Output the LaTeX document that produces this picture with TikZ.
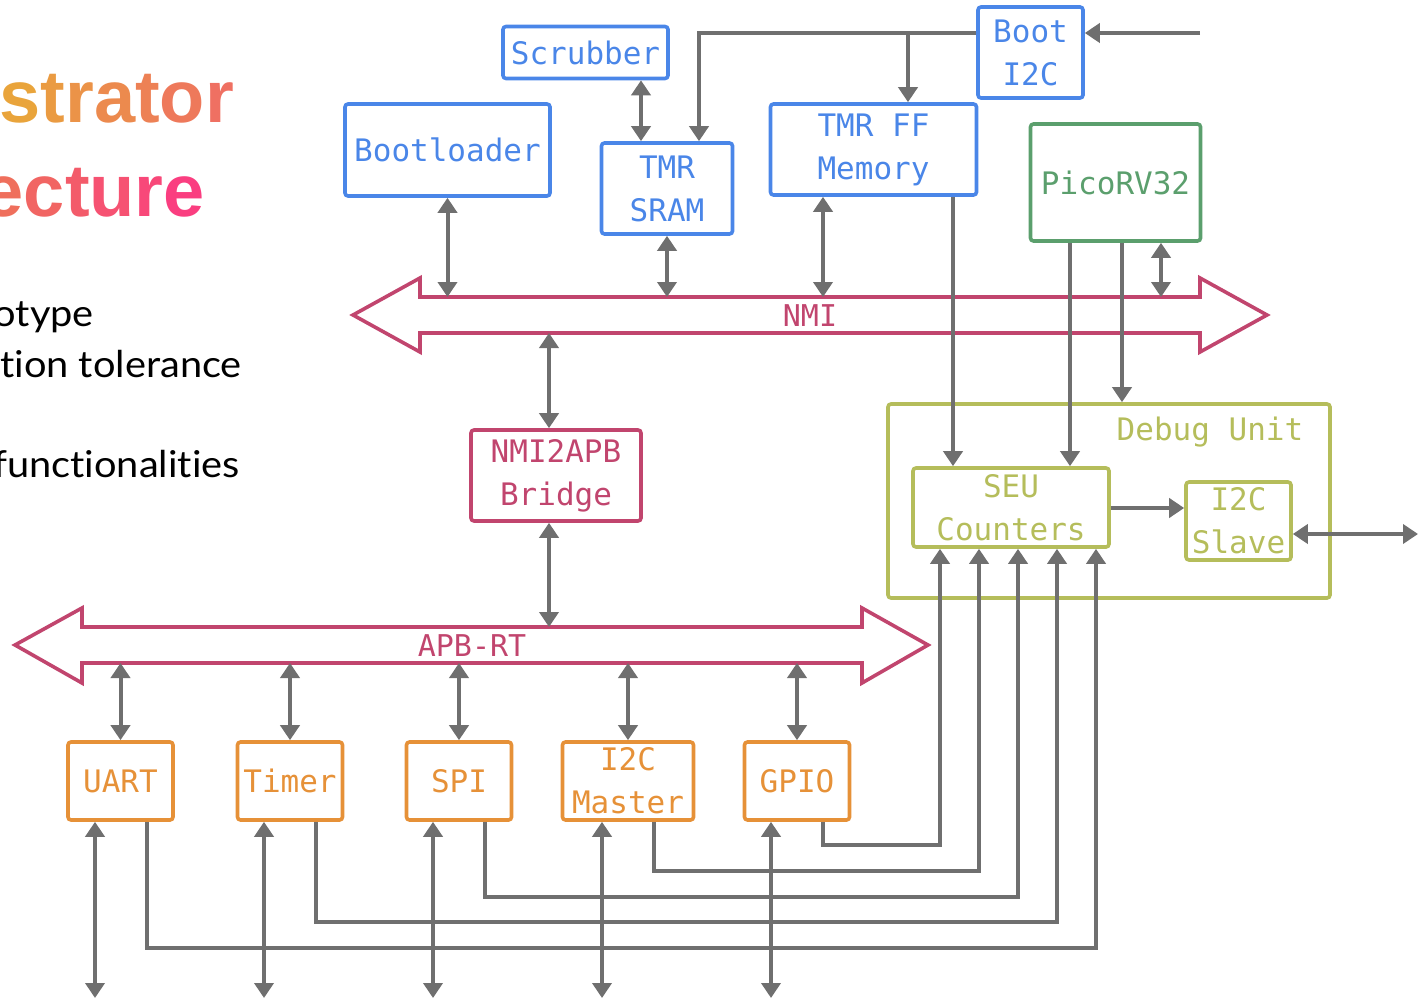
\documentclass[tikz,border=0pt]{standalone}
\usepackage{fontspec}
\usetikzlibrary{arrows.meta}
\newfontfamily\monofont{DejaVu Sans Mono}
\newfontfamily\titlefont{Liberation Sans}
\newfontfamily\bodyfont{Lato}[FakeStretch=1.075, Ligatures={NoCommon,NoRare}]
\definecolor{memblue}{HTML}{4A86E8}
\definecolor{cpugreen}{HTML}{5B9F6D}
\definecolor{busred}{HTML}{C1456E}
\definecolor{periorange}{HTML}{E69138}
\definecolor{dbgolive}{HTML}{B5BD5B}
\definecolor{wiregray}{HTML}{6F6F6F}
\newcommand{\gl}[4]{{\color[RGB]{#1,#2,#3}#4}}
\begin{document}
\begin{tikzpicture}[x=1pt,y=-1pt,
  blk/.style={draw, line width=3.6pt, rounded corners=3pt, inner sep=0pt,
    align=center, font=\monofont\fontsize{31}{43}\selectfont},
  membox/.style={blk, draw=memblue, text=memblue},
  cpubox/.style={blk, draw=cpugreen, text=cpugreen},
  bridgebox/.style={blk, draw=busred, text=busred},
  peribox/.style={blk, draw=periorange, text=periorange, minimum width=105pt, minimum height=78pt},
  dbgbox/.style={blk, draw=dbgolive, text=dbgolive},
  busshape/.style={draw=busred, line width=3.6pt, line join=miter},
  buslabel/.style={text=busred, font=\monofont\fontsize{30}{36}\selectfont, inner sep=0pt},
  wire/.style={draw=wiregray, line width=4pt},
  tip/.tip={Triangle[length=15pt,width=19pt]},
  uni/.style={wire, -tip},
  bi/.style={wire, tip-tip}]
\useasboundingbox (0,0) rectangle (1426,1000);

% slide title and bullet text
\node[anchor=base east, inner sep=0pt, font=\titlefont\bfseries\fontsize{74}{80}\selectfont] (ttlA) at (234,123)
  {\gl{233}{164}{59}{s}\gl{234}{155}{66}{t}\gl{235}{147}{72}{r}\gl{236}{138}{78}{a}\gl{237}{129}{85}{t}\gl{238}{121}{91}{o}\gl{239}{112}{98}{r}};
\node[anchor=base east, inner sep=0pt, font=\titlefont\bfseries\fontsize{74}{80}\selectfont] (ttlB) at (205,217)
  {\gl{239}{111}{92}{e}\gl{241}{101}{99}{c}\gl{243}{91}{106}{t}\gl{246}{82}{114}{u}\gl{248}{72}{121}{r}\gl{250}{62}{128}{e}};
\node[anchor=base east, inner sep=0pt, font=\bodyfont\fontsize{37}{44}\selectfont] (bl1) at (94,326) {otype};
\node[anchor=base east, inner sep=0pt, font=\bodyfont\fontsize{37}{44}\selectfont] (bl2) at (242,377) {tion tolerance};
\node[anchor=base east, inner sep=0pt, font=\bodyfont\fontsize{37}{44}\selectfont] (bl3) at (240,477) {functionalities};

% buses
\draw[busshape] (353,315) -- (420,278) -- (420,297) -- (1200,297) -- (1200,278) -- (1267,315)
  -- (1200,352) -- (1200,333) -- (420,333) -- (420,352) -- cycle;
\node[buslabel] (nmi) at (810,316) {NMI};
\draw[busshape] (15,645) -- (82,608) -- (82,627) -- (862,627) -- (862,608) -- (928,645)
  -- (862,683) -- (862,663) -- (82,663) -- (82,683) -- cycle;
\node[buslabel] (apb) at (472,646) {APB-RT};

% blocks
\node[membox, minimum width=165pt, minimum height=52pt] (scrub) at (585.5,52.5) {Scrubber};
\node[membox, minimum width=205pt, minimum height=92pt] (bootl) at (447.5,150) {Bootloader};
\node[membox, minimum width=131pt, minimum height=91pt] (sram) at (667,188.5) {TMR\\SRAM};
\node[membox, minimum width=206pt, minimum height=91pt] (ffmem) at (873.5,149.5) {TMR FF\\Memory};
\node[membox, minimum width=105pt, minimum height=91pt] (booti2c) at (1030.5,52.5) {Boot\\I2C};
\node[cpubox, minimum width=170pt, minimum height=117pt] (pico) at (1115.5,182.5) {PicoRV32};
\node[bridgebox, minimum width=170pt, minimum height=91pt] (bridge) at (556,475.5) {NMI2APB\\Bridge};
\node[dbgbox, minimum width=442pt, minimum height=194pt] (dbg) at (1109,501) {};
\node[text=dbgolive, inner sep=0pt, font=\monofont\fontsize{31}{43}\selectfont] (dbglbl) at (1210,432) {Debug Unit};
\node[dbgbox, minimum width=196pt, minimum height=79pt] (seu) at (1011,507.5) {SEU\\Counters};
\node[dbgbox, minimum width=105pt, minimum height=78pt] (slave) at (1238.5,521) {I2C\\Slave};
\node[peribox] (uart) at (120.5,781) {UART};
\node[peribox] (timer) at (290,781) {Timer};
\node[peribox] (spi) at (459,781) {SPI};
\node[peribox, minimum width=131pt] (i2cm) at (628,781) {I2C\\Master};
\node[peribox] (gpio) at (797,781) {GPIO};

% lane coordinates
\coordinate (nmiT) at (0,297);
\coordinate (nmiB) at (0,333);
\coordinate (apbT) at (0,627);
\coordinate (apbB) at (0,663);
\coordinate (nmiFF) at (823,297);
\coordinate (nmiPico) at (1161,297);
\coordinate (nmiBr) at (549,333);
\coordinate (apbBr) at (549,627);
\coordinate (bootin) at (1200,33);
\coordinate (sramtop) at (699,33);
\coordinate (ffbr) at (908,33);
\coordinate (scrx) at (641,100);
\coordinate (ffx) at (953,300);
\coordinate (picoA) at (1070,300);
\coordinate (picoB) at (1122,300);
\coordinate (sy) at (1150,508);
\coordinate (so) at (1418,534);
\coordinate (io1) at (95,998);
\coordinate (io2) at (264,998);
\coordinate (io3) at (433,998);
\coordinate (io4) at (602,998);
\coordinate (io5) at (771,998);
\coordinate (ua) at (147,948);
\coordinate (ub) at (1096,948);
\coordinate (ta) at (316,922);
\coordinate (tb) at (1057,922);
\coordinate (sa) at (485,897);
\coordinate (sb) at (1018,897);
\coordinate (ma) at (654,871);
\coordinate (mb) at (979,871);
\coordinate (ga) at (823,845);
\coordinate (gb) at (940,845);

% boot configuration path
\draw[uni] (bootin) -- (booti2c.east |- bootin);
\draw[uni] (booti2c.west |- bootin) -- (sramtop) -- (sram.north -| sramtop);
\draw[uni] (ffbr) -- (ffmem.north -| ffbr);
\draw[bi] (scrub.south -| scrx) -- (sram.north -| scrx);

% NMI attachments
\draw[bi] (bootl.south) -- (bootl.south |- nmiT);
\draw[bi] (sram.south) -- (sram.south |- nmiT);
\draw[bi] (ffmem.south -| nmiFF) -- (nmiFF);
\draw[bi] (pico.south -| nmiPico) -- (nmiPico);
\draw[bi] (nmiBr) -- (bridge.north -| nmiBr);
\draw[bi] (bridge.south -| apbBr) -- (apbBr);

% error reporting into the debug unit
\draw[uni] (ffmem.south -| ffx) -- (seu.north -| ffx);
\draw[uni] (pico.south -| picoA) -- (seu.north -| picoA);
\draw[uni] (pico.south -| picoB) -- (dbg.north -| picoB);
\draw[uni] (seu.east |- sy) -- (slave.west |- sy);
\draw[bi] (slave.east |- so) -- (so);

% APB peripherals
\foreach \p in {uart,timer,spi,i2cm,gpio}
  \draw[bi] (\p.north |- apbB) -- (\p.north);
\draw[bi] (uart.south -| io1) -- (io1);
\draw[bi] (timer.south -| io2) -- (io2);
\draw[bi] (spi.south -| io3) -- (io3);
\draw[bi] (i2cm.south -| io4) -- (io4);
\draw[bi] (gpio.south -| io5) -- (io5);

% peripheral error lines to the SEU counters
\draw[uni] (uart.south -| ua) -- (ua) -- (ub) -- (seu.south -| ub);
\draw[uni] (timer.south -| ta) -- (ta) -- (tb) -- (seu.south -| tb);
\draw[uni] (spi.south -| sa) -- (sa) -- (sb) -- (seu.south -| sb);
\draw[uni] (i2cm.south -| ma) -- (ma) -- (mb) -- (seu.south -| mb);
\draw[uni] (gpio.south -| ga) -- (ga) -- (gb) -- (seu.south -| gb);
\end{tikzpicture}
\end{document}
